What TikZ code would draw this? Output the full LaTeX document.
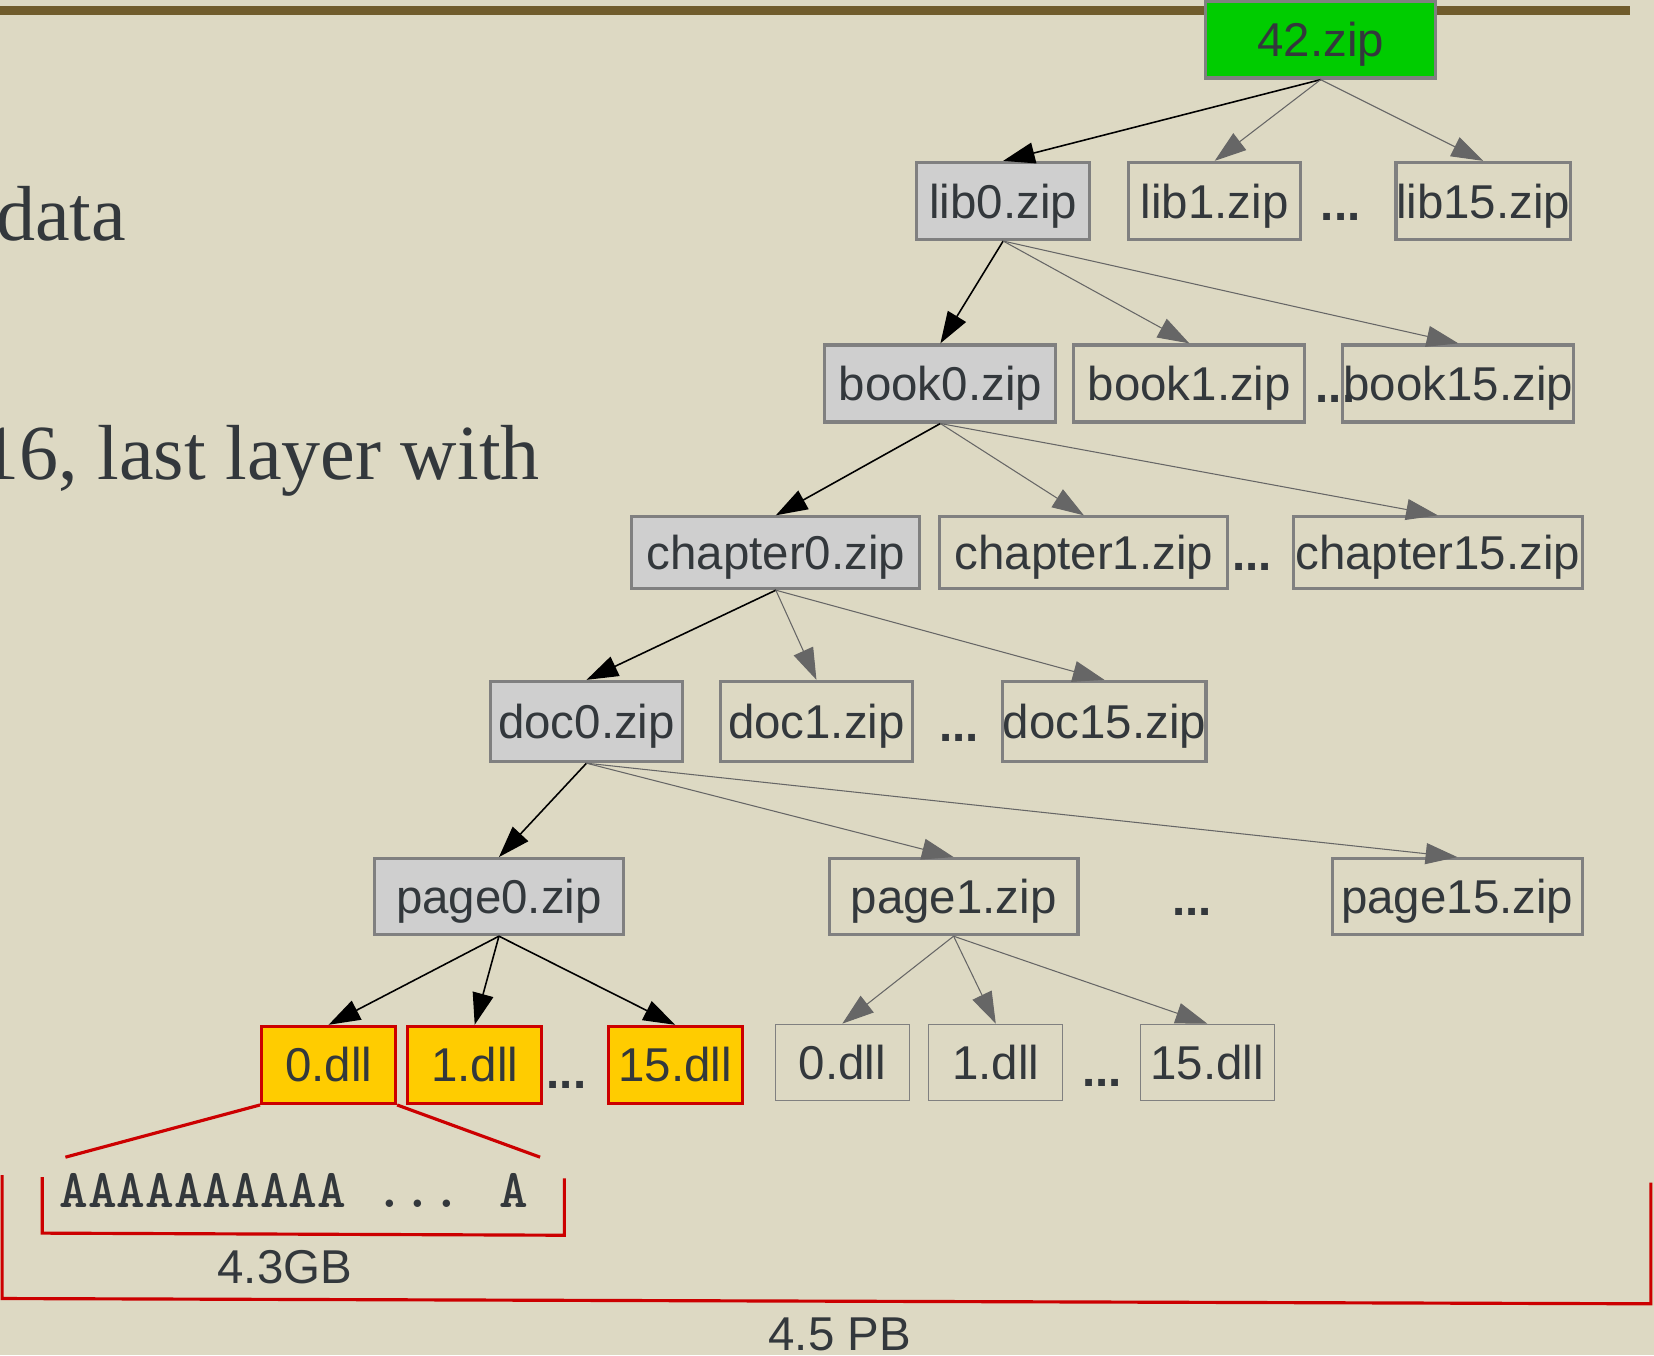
\documentclass[tikz,border=0pt]{standalone}
\usepackage{fontspec}
\setmainfont{Liberation Sans}
\newfontfamily\serifface{Liberation Serif}
\usetikzlibrary{arrows.meta}
\definecolor{bg}{RGB}{221,217,195}
\definecolor{topbar}{RGB}{112,92,44}
\definecolor{txt}{RGB}{51,56,60}
\definecolor{boxgray}{RGB}{128,128,128}
\definecolor{fillgray}{RGB}{207,207,207}
\definecolor{edgegray}{RGB}{102,102,102}
\definecolor{zipgreen}{RGB}{0,204,0}
\definecolor{dllyellow}{RGB}{255,204,0}
\definecolor{dllred}{RGB}{204,0,0}
\begin{document}
\begin{tikzpicture}[x=0.5pt,y=-0.5pt,
  lbl/.style={font=\fontsize{22.5}{27}\selectfont, text=txt, inner sep=0pt, text height=16.2pt, text depth=0pt},
  zbox/.style={lbl, draw=boxgray, line width=1.5pt},
  gbox/.style={zbox, fill=fillgray},
  greenbox/.style={zbox, fill=zipgreen},
  ybox/.style={lbl, draw=dllred, fill=dllyellow, line width=1.5pt, minimum width=63.5pt, minimum height=36.5pt},
  tbox/.style={lbl, draw=boxgray, line width=0.6pt, minimum width=63.5pt, minimum height=36pt},
  dots/.style={font=\fontsize{22.5}{27}\selectfont\bfseries, text=txt, inner sep=0pt, anchor=base},
  blk/.style={draw=black, line width=0.75pt, -{Triangle[length=15pt,width=10pt]}},
  gry/.style={draw=edgegray, line width=0.5pt, -{Triangle[length=15pt,width=10pt]}},
  redline/.style={draw=dllred, line width=1.5pt},
  serif/.style={font=\serifface\fontsize{37}{40}\selectfont, text=txt, inner sep=0pt, anchor=base east},
  note/.style={font=\fontsize{22.5}{27}\selectfont, text=txt, inner sep=0pt, anchor=base}
]
\useasboundingbox (0,0) rectangle (1568,1285);
\clip (0,0) rectangle (1568,1285);
\fill[bg] (0,0) rectangle (1568,1285);
\draw[topbar, line width=4pt] (0,10) -- (1545,10);

% left text
\node[serif] (t1) at (120,228) {data};
\node[serif] (t2) at (512,455) {16, last layer with};

% level 0
\node[greenbox, minimum width=109pt, minimum height=36.5pt] (z42) at (1252,37.5) {42.zip};
% level 1
\node[gbox, minimum width=82pt, minimum height=36.5pt] (lib0) at (951,190.5) {lib0.zip};
\node[zbox, minimum width=81.5pt, minimum height=36.5pt] (lib1) at (1151.5,190.5) {lib1.zip};
\node[dots] (d1) at (1271,209) {...};
\node[zbox, minimum width=82pt, minimum height=36.5pt] (lib15) at (1406,190.5) {lib15.zip};
% level 2
\node[gbox, minimum width=109.5pt, minimum height=36.5pt] (book0) at (891.5,363.5) {book0.zip};
\node[zbox, minimum width=109.5pt, minimum height=36.5pt] (book1) at (1127.5,363.5) {book1.zip};
\node[dots] (d2) at (1266,382) {...};
\node[zbox, minimum width=109.5pt, minimum height=36.5pt] (book15) at (1382.5,363.5) {book15.zip};
% level 3
\node[gbox, minimum width=136.5pt, minimum height=34pt] (ch0) at (735.5,524) {chapter0.zip};
\node[zbox, minimum width=136.5pt, minimum height=34pt] (ch1) at (1027.5,524) {chapter1.zip};
\node[dots] (d3) at (1187,541) {...};
\node[zbox, minimum width=137pt, minimum height=34pt] (ch15) at (1363,524) {chapter15.zip};
% level 4
\node[gbox, minimum width=91pt, minimum height=38pt] (doc0) at (556,684) {doc0.zip};
\node[zbox, minimum width=91pt, minimum height=38pt] (doc1) at (774,684) {doc1.zip};
\node[dots] (d4) at (909,703) {...};
\node[zbox, minimum width=91pt, minimum height=38pt] (doc15) at (1047,684) {doc15.zip};
% level 5
\node[gbox, minimum width=118pt, minimum height=36pt] (pg0) at (473,850) {page0.zip};
\node[zbox, minimum width=118pt, minimum height=36pt] (pg1) at (904,850) {page1.zip};
\node[dots] (d5) at (1130,868) {...};
\node[zbox, minimum width=118.5pt, minimum height=36pt] (pg15) at (1381.5,850) {page15.zip};
% level 6
\node[ybox] (a0) at (311.5,1009.5) {0.dll};
\node[ybox] (a1) at (450,1009.5) {1.dll};
\node[dots] (d6) at (537,1032) {...};
\node[ybox] (a15) at (640,1009.5) {15.dll};
\node[tbox] (b0) at (798.5,1007) {0.dll};
\node[tbox] (b1) at (944,1007) {1.dll};
\node[dots] (d7) at (1045,1030) {...};
\node[tbox] (b15) at (1144.5,1007) {15.dll};

% edges
\draw[blk] (z42.south) -- (lib0.north);
\draw[gry] (z42.south) -- (lib1.north);
\draw[gry] (z42.south) -- (lib15.north);
\draw[blk] (lib0.south) -- (book0.north);
\draw[gry] (lib0.south) -- (book1.north);
\draw[gry] (lib0.south) -- (book15.north);
\draw[blk] (book0.south) -- (ch0.north);
\draw[gry] (book0.south) -- (ch1.north);
\draw[gry] (book0.south) -- (ch15.north);
\draw[blk] (ch0.south) -- (doc0.north);
\draw[gry] (ch0.south) -- (doc1.north);
\draw[gry] (ch0.south) -- (doc15.north);
\draw[blk] (doc0.south) -- (pg0.north);
\draw[gry] (doc0.south) -- (pg1.north);
\draw[gry] (doc0.south) -- (pg15.north);
\draw[blk] (pg0.south) -- (a0.north);
\draw[blk] (pg0.south) -- (a1.north);
\draw[blk] (pg0.south) -- (a15.north);
\draw[gry] (pg1.south) -- (b0.north);
\draw[gry] (pg1.south) -- (b1.north);
\draw[gry] (pg1.south) -- (b15.north);

% zoom-in of 0.dll
\coordinate (zl) at (62,1097);
\coordinate (zr) at (512,1097);
\draw[redline] (a0.south west) -- (zl);
\draw[redline] (a0.south east) -- (zr);
\node[font=\ttfamily\bfseries\fontsize{25.9}{30}\selectfont, text=txt, inner sep=0pt, anchor=base west] (content) at (56,1145) {AAAAAAAAAA ... A};
\draw[redline] (40,1116) -- (40,1169) -- (535,1171) -- (535,1117);
\node[note] (gb) at (270,1217) {4.3GB};
\draw[redline] (2,1114) -- (2,1231) -- (1565,1236) -- (1565,1121);
\node[note] (pb) at (796,1280) {4.5 PB};
\end{tikzpicture}
\end{document}
